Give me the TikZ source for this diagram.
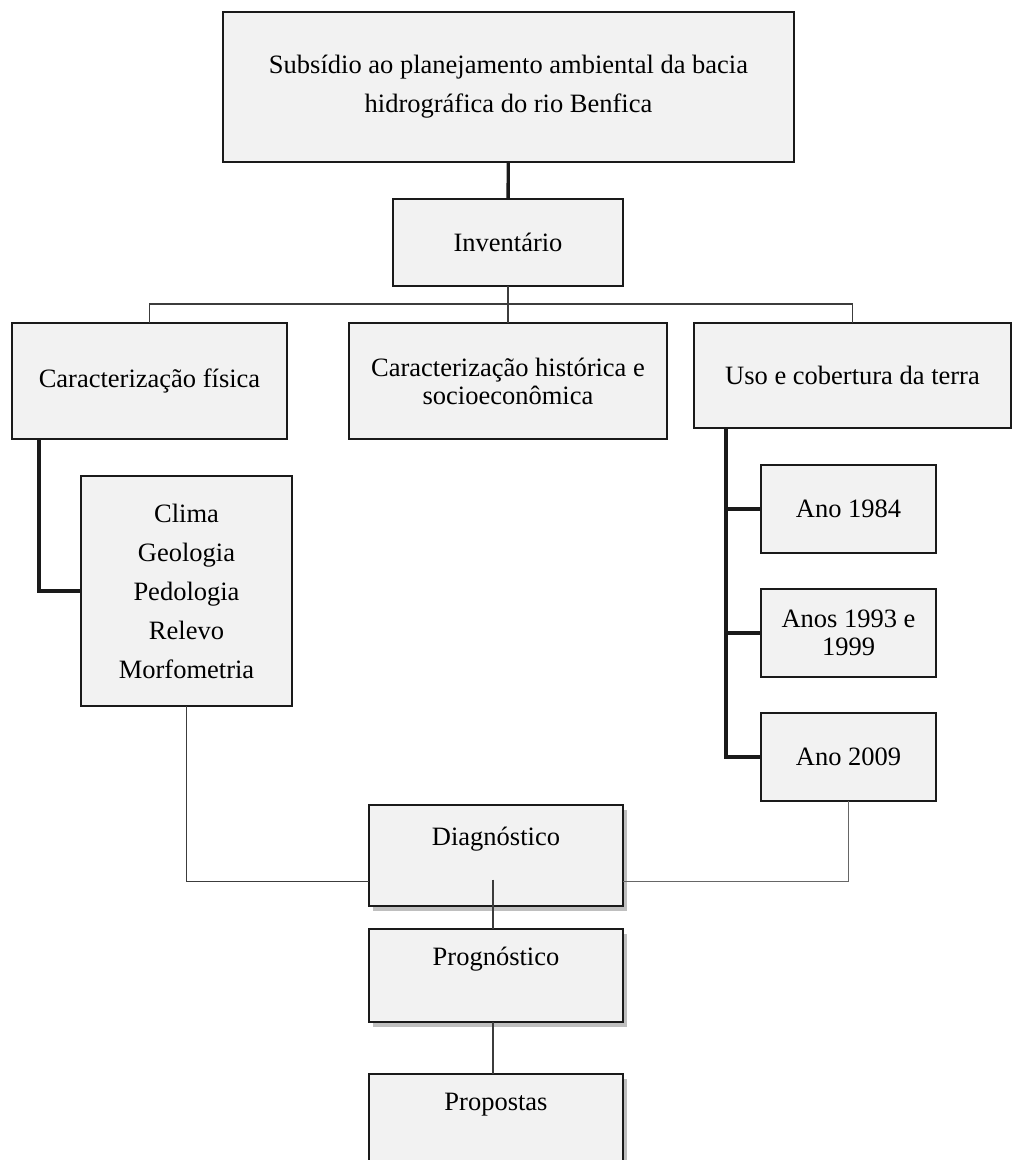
\documentclass[tikz,border=0pt]{standalone}
\usepackage{fontspec}
\setmainfont{Liberation Serif}
\usetikzlibrary{positioning,shadows}
\definecolor{boxfill}{HTML}{F2F2F2}
\definecolor{boxline}{HTML}{1A1A1A}

\begin{document}
\begin{tikzpicture}[
    x=0.5pt, y=-0.5pt,
    box/.style={draw=boxline, fill=boxfill, line width=1pt, inner sep=0pt, outer sep=0pt, align=center, font=\fontsize{13.25}{19.5}\selectfont},
    tight/.style={font=\fontsize{13.25}{14}\selectfont},
    shbox/.style={box, minimum width=127pt, drop shadow={shadow xshift=2pt, shadow yshift=-2.5pt, fill=gray!50, opacity=1}},
    link/.style={draw=boxline!85, line width=0.75pt},
    trunk/.style={draw=boxline, line width=1.7pt},
]
    \useasboundingbox (0,0) rectangle (1013,1160);

    \node[box, minimum width=285.5pt, minimum height=75pt] (plano) at (508.5,87) {Subsídio ao planejamento ambiental da bacia\\hidrográfica do rio Benfica};
    \node[box, minimum width=115pt, minimum height=43.5pt] (inv) at (508,242.5) {Inventário};

    \node[box, minimum width=137.5pt, minimum height=58pt] (fis) at (149.5,381) {Caracterização física};
    \node[box, tight, minimum width=159pt, minimum height=58pt] (soc) at (508,381) {Caracterização histórica e\\socioeconômica};
    \node[box, minimum width=158.5pt, minimum height=52.5pt] (uso) at (852.5,375.5) {Uso e cobertura da terra};

    \node[box, minimum width=105.5pt, minimum height=115pt] (meio) at (186.5,591) {Clima\\Geologia\\Pedologia\\Relevo\\Morfometria};

    \node[box, minimum width=87.5pt, minimum height=44pt] (ano1) at (848.5,509) {Ano 1984};
    \node[box, tight, minimum width=87.5pt, minimum height=44pt] (ano2) at (848.5,633) {Anos 1993 e\\1999};
    \node[box, minimum width=87.5pt, minimum height=44pt] (ano3) at (848.5,757) {Ano 2009};

    \node[shbox, minimum height=50.5pt] (diag) at (496,855.5) {Diagnóstico\\~};
    \node[shbox, minimum height=46.5pt] (prog) at (496,975.5) {Prognóstico\\~};
    \node[shbox, minimum height=47pt] (prop) at (496,1121) {Propostas\\~};

    \draw[trunk] (plano) -- (inv);
    \coordinate (barra) at (508,304);
    \draw[link] (inv) -- (soc);
    \draw[link] (fis.north) |- (barra) -| (uso.north);

    \draw[trunk] ([xshift=13.5pt]fis.south west) |- (meio.west);
    \draw[trunk] ([xshift=16pt]uso.south west) coordinate (tronco) |- (ano3.west);
    \foreach \n in {ano1,ano2}
        \draw[trunk] (\n.west) -- (\n.west -| tronco);

    \draw[link] (meio.south) |- ([yshift=-13pt]diag.west);
    \draw[link, draw=gray!80!black] (ano3.south) |- ([yshift=-13pt]diag.east);
    \draw[link] ([xshift=-1.5pt, yshift=-12pt]diag.center) -- ([xshift=-1.5pt]prog.north);
    \draw[link] ([xshift=-1.5pt]prog.south) -- ([xshift=-1.5pt]prop.north);
\end{tikzpicture}
\end{document}
